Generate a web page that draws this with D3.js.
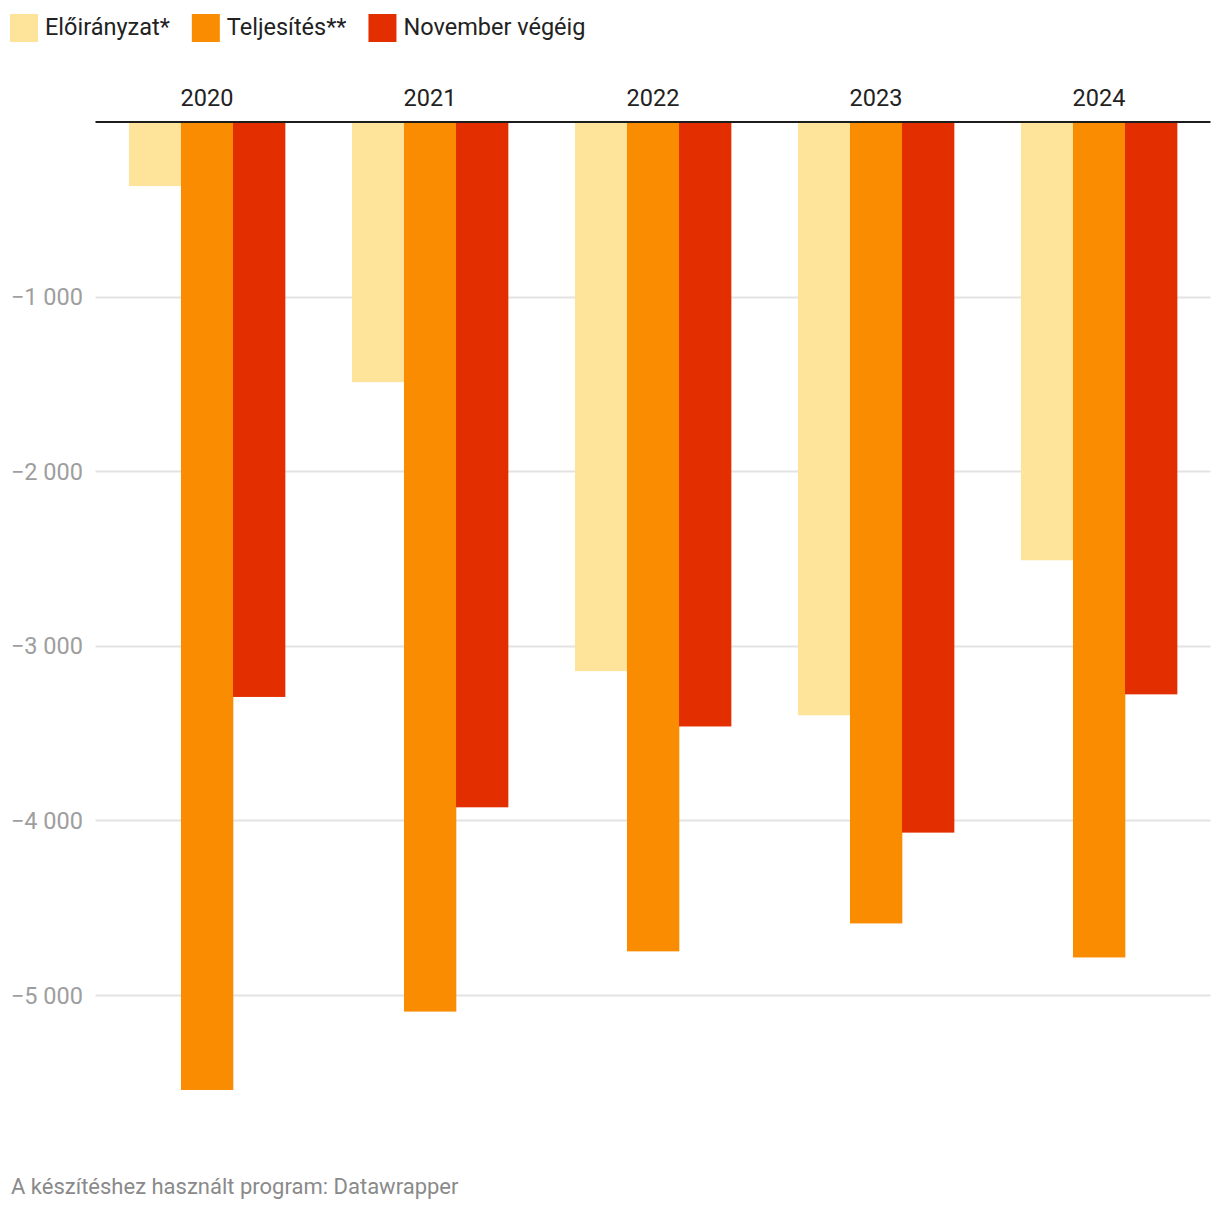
<!DOCTYPE html>
<html>
<head>
<meta charset="utf-8">
<script src="https://cdn.jsdelivr.net/npm/d3@7"></script>
<style>
  html, body { margin: 0; padding: 0; background: #fff; }
  svg { display: block; font-family: Roboto, "Noto Sans", sans-serif; }
</style>
</head>
<body>
<svg id="chart" width="1220" height="1212"></svg>
<script>
const years = ["2020", "2021", "2022", "2023", "2024"];
const seriesNames = ["Előirányzat*", "Teljesítés**", "November végéig"];
const seriesColors = ["#fee39b", "#f98c00", "#e32f00"];
const eloiranyzat = [-367, -1490, -3145, -3398, -2510];
const teljesites = [-5544, -5095, -4750, -4590, -4785];
const novemberVegeig = [-3293, -3925, -3462, -4070, -3278];
const yTicks = [-1000, -2000, -3000, -4000, -5000];
const footer = "A készítéshez használt program: Datawrapper";

const seriesValues = [eloiranyzat, teljesites, novemberVegeig];
const svg = d3.select("#chart");

const plotLeft = 95.5, plotRight = 1210.5, zeroY = 122;
const y = d3.scaleLinear().domain([0, -5000]).range([zeroY, 995]);

const x0 = d3.scaleBand().domain(years).range([plotLeft, plotRight]).paddingInner(0.3).paddingOuter(0.15);
const x1 = d3.scaleBand().domain(d3.range(seriesNames.length)).range([0, x0.bandwidth()]).padding(0);

// gridlines
svg.append("g").selectAll("line").data(yTicks).join("line")
  .attr("x1", plotLeft).attr("x2", plotRight)
  .attr("y1", d => Math.round(y(d)) + 0.5).attr("y2", d => Math.round(y(d)) + 0.5)
  .attr("stroke", "#e3e3e3").attr("stroke-width", 2);

// y tick labels
svg.append("g").selectAll("text").data(yTicks).join("text")
  .attr("x", 83).attr("y", d => y(d) + 8.5)
  .attr("text-anchor", "end")
  .attr("font-size", 23.5).attr("fill", "#9e9e9e")
  .text(d => "\u2212" + d3.format(",")(Math.abs(d)).replace(/,/g, " "));

// bars
const groups = svg.append("g").selectAll("g").data(years).join("g")
  .attr("transform", d => `translate(${x0(d)},0)`);
groups.selectAll("rect").data((d, i) => seriesValues.map((s, k) => ({k, v: s[i]}))).join("rect")
  .attr("x", d => x1(d.k))
  .attr("width", x1.bandwidth() + 0.3)
  .attr("y", y(0))
  .attr("height", d => y(d.v) - y(0))
  .attr("fill", d => seriesColors[d.k]);

// zero line
svg.append("line").attr("x1", plotLeft).attr("x2", plotRight)
  .attr("y1", y(0)).attr("y2", y(0))
  .attr("stroke", "#1d1d1d").attr("stroke-width", 2);

// year labels
svg.append("g").selectAll("text").data(years).join("text")
  .attr("x", d => x0(d) + x0.bandwidth() / 2)
  .attr("y", 106)
  .attr("text-anchor", "middle")
  .attr("font-size", 23.5).attr("fill", "#222")
  .text(d => d);

// legend
const legend = svg.append("g");
let lx = 10;
seriesNames.forEach((name, k) => {
  legend.append("rect").attr("x", lx).attr("y", 14).attr("width", 28).attr("height", 28).attr("fill", seriesColors[k]);
  const t = legend.append("text").attr("x", lx + 35).attr("y", 35)
    .attr("font-size", 23.5).attr("fill", "#222").text(name);
  lx += 35 + t.node().getComputedTextLength() + 22;
});

// footer
svg.append("text").attr("x", 11).attr("y", 1194)
  .attr("font-size", 22).attr("fill", "#8a8a8a").text(footer);
</script>
</body>
</html>
